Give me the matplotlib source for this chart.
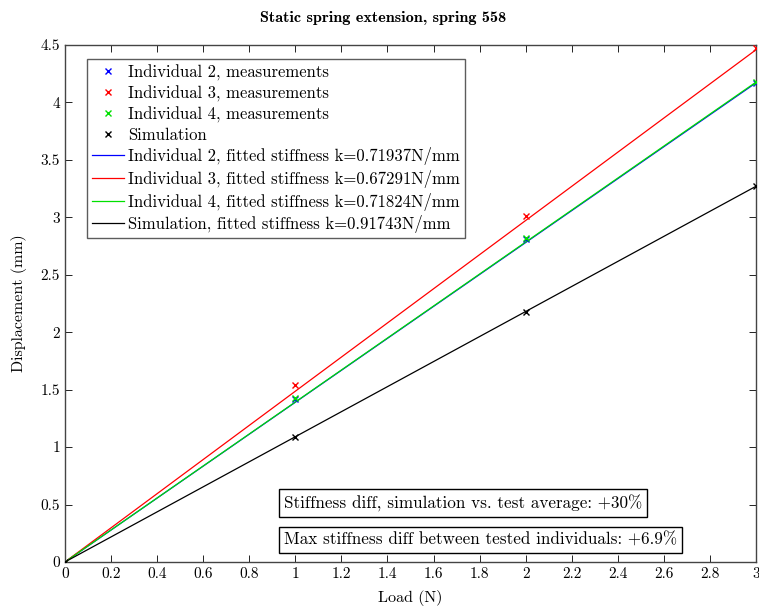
import numpy as np
import matplotlib
matplotlib.use("Agg")
import matplotlib.pyplot as plt

# data
load = [0, 1, 2, 3]
disp_ind2 = [0, 1.42, 2.81, 4.17]
disp_ind3 = [0, 1.54, 3.01, 4.47]
disp_ind4 = [0, 1.43, 2.82, 4.18]
disp_sim = [0, 1.09, 2.18, 3.27]

k_ind2 = 0.71937
k_ind3 = 0.67291
k_ind4 = 0.71824
k_sim = 0.91743

xticks = np.arange(0, 3.01, 0.2)
yticks = np.arange(0, 4.51, 0.5)

plt.rcParams['font.family'] = 'serif'
plt.rcParams['font.serif'] = ['cmr10']
plt.rcParams['mathtext.fontset'] = 'cm'
plt.rcParams['axes.formatter.use_mathtext'] = True

fig = plt.figure(figsize=(7.59, 6.08), dpi=100)
ax = fig.add_axes([0.0856, 0.0757, 0.9104, 0.8503])

blue, red, green, black = '#0000ff', '#ff0000', '#00e000', '#000000'

ax.plot(load, disp_ind2, 'x', color=blue, ms=5, mew=1, label='Individual 2, measurements', zorder=4)
ax.plot(load, disp_ind3, 'x', color=red, ms=5, mew=1, label='Individual 3, measurements', zorder=4)
ax.plot(load, disp_ind4, 'x', color=green, ms=5, mew=1, label='Individual 4, measurements', zorder=4)
ax.plot(load, disp_sim, 'x', color=black, ms=5, mew=1, label='Simulation', zorder=4)

f = np.array([0, 3])
ax.plot(f, f / k_ind2, color=blue, lw=0.9,
        label=f'Individual 2, fitted stiffness k={k_ind2:.5f}N/mm')
ax.plot(f, f / k_ind3, color=red, lw=0.9,
        label=f'Individual 3, fitted stiffness k={k_ind3:.5f}N/mm')
ax.plot(f, f / k_ind4, color=green, lw=0.9,
        label=f'Individual 4, fitted stiffness k={k_ind4:.5f}N/mm')
ax.plot(f, f / k_sim, color=black, lw=0.9,
        label=f'Simulation, fitted stiffness k={k_sim:.5f}N/mm')

ax.set_xlim(0, 3)
ax.set_ylim(0, 4.5)
ax.set_xticks(xticks)
ax.set_yticks(yticks)
ax.set_xticklabels([f'{v:g}' for v in np.round(xticks, 1)])
ax.set_yticklabels([f'{v:g}' for v in yticks])
ax.tick_params(direction='in', top=True, right=True, labelsize=11, length=5, width=0.6)
for s in ax.spines.values():
    s.set_linewidth(1.0)
    s.set_color('#444444')

ax.set_xlabel('Load (N)', fontsize=11.5, labelpad=7)
ax.set_ylabel('Displacement (mm)', fontsize=11.5, labelpad=10)
fig.text(0.505, 0.970, 'Static spring extension, spring 558', fontsize=11.7,
         family='cmb10', ha='center', va='center')

leg = ax.legend(loc='upper left', bbox_to_anchor=(0.032, 0.972), fontsize=12,
                frameon=True, fancybox=False, edgecolor='#333333',
                handlelength=1.9, handletextpad=0.25, labelspacing=0.28,
                borderpad=0.3, borderaxespad=0, markerscale=0.8)
leg.get_frame().set_linewidth(1.0)

box = dict(boxstyle='square,pad=0.3', fc='white', ec='black', lw=1.0)
ax.text(0.317, 0.114, 'Stiffness diff, simulation vs. test average: +30%',
        transform=ax.transAxes, fontsize=12.3, va='center', ha='left', bbox=box)
ax.text(0.317, 0.0426, 'Max stiffness diff between tested individuals: +6.9%',
        transform=ax.transAxes, fontsize=12.3, va='center', ha='left', bbox=box)

fig.savefig('out.png', dpi=100)
